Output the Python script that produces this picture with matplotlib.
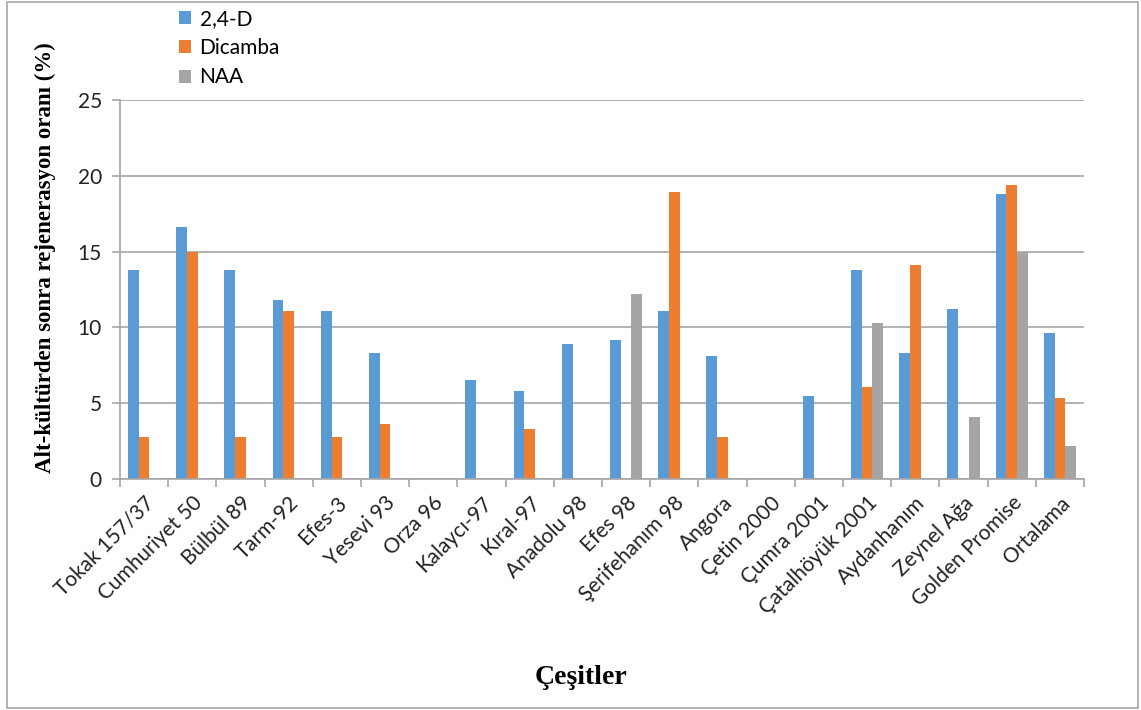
import matplotlib.pyplot as plt
import numpy as np
from matplotlib.patches import Rectangle

# Veriler
cesitler = ['Tokak 157/37', 'Cumhuriyet 50', 'Bülbül 89', 'Tarm-92', 'Efes-3',
            'Yesevi 93', 'Orza 96', 'Kalaycı-97', 'Kıral-97', 'Anadolu 98',
            'Efes 98', 'Şerifehanım 98', 'Angora', 'Çetin 2000', 'Çumra 2001',
            'Çatalhöyük 2001', 'Aydanhanım', 'Zeynel Ağa', 'Golden Promise', 'Ortalama']
nan = np.nan
d24 = [13.8, 16.6, 13.8, 11.8, 11.1, 8.3, nan, 6.5, 5.8, 8.9,
       9.2, 11.1, 8.1, nan, 5.5, 13.8, 8.3, 11.2, 18.8, 9.6]
dicamba = [2.75, 15.0, 2.75, 11.1, 2.75, 3.65, nan, nan, 3.3, nan,
           nan, 18.9, 2.75, nan, nan, 6.1, 14.1, nan, 19.4, 5.35]
naa = [nan, nan, nan, nan, nan, nan, nan, nan, nan, nan,
       12.2, nan, nan, nan, nan, 10.3, nan, 4.1, 15.0, 2.15]

W, H = 1141, 710
fig = plt.figure(figsize=(W / 100, H / 100), dpi=100)
plt.rcParams['font.family'] = ['Lato', 'DejaVu Sans']

ax = fig.add_axes([120 / W, (H - 479) / H, 964 / W, 379 / H])
x = np.arange(len(cesitler))
w = 0.222
ax.bar(x - w, d24, w, color='#5B9BD5', label='2,4-D', linewidth=0)
ax.bar(x, dicamba, w, color='#ED7D31', label='Dicamba', linewidth=0)
ax.bar(x + w, naa, w, color='#A5A5A5', label='NAA', linewidth=0)

ax.set_xlim(-0.5, len(cesitler) - 0.5)
ax.set_ylim(0, 25)
ax.set_yticks([0, 5, 10, 15, 20, 25])
ax.yaxis.grid(True, color='#a6a6a6', linewidth=1.2)
ax.set_axisbelow(True)
for s in ['top', 'right']:
    ax.spines[s].set_visible(False)
for s in ['left', 'bottom']:
    ax.spines[s].set_color('#a6a6a6')
    ax.spines[s].set_linewidth(1.2)

ax.set_xticks(x)
ax.set_xticklabels(cesitler, rotation=45, ha='right', rotation_mode='anchor',
                   fontsize=15, color='#222222')
ax.tick_params(axis='x', length=0, pad=10)
ax.set_xticks(np.arange(-0.5, len(cesitler)), minor=True)
ax.tick_params(axis='x', which='minor', length=6, color='#a6a6a6', width=1.2)
ax.tick_params(axis='y', length=6, color='#a6a6a6', width=1.2, labelsize=15,
               labelcolor='#222222', pad=7)

# Eksen başlıkları
fig.text(45 / W, 1 - 258 / H, 'Alt-kültürden sonra rejenerasyon oranı (%)',
         rotation=90, ha='center', va='center', fontsize=16.5, fontweight='bold',
         family='Liberation Serif')
fig.text(581 / W, 1 - 677 / H, 'Çeşitler', ha='center', va='center',
         fontsize=20, fontweight='bold', family='Liberation Serif')

# Lejant
fig.legend(loc='upper left', bbox_to_anchor=(160 / W, 1 + 10 / H), frameon=False,
           fontsize=15, handlelength=0.6, handleheight=0.6, labelspacing=0.45,
           handletextpad=0.4)

# Dış çerçeve
fig.patches.append(Rectangle((7 / W, 2 / H), 1131 / W, 706 / H, transform=fig.transFigure,
                             fill=False, edgecolor='#a6a6a6', linewidth=1.2))

plt.savefig('out.png', dpi=100)
